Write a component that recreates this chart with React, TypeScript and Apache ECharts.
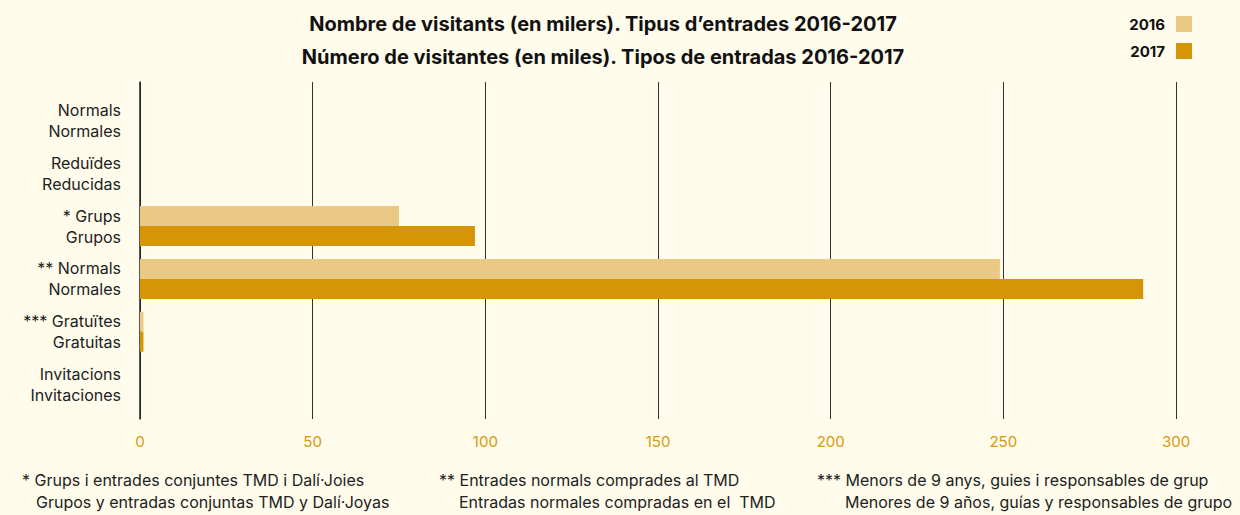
import React, { useEffect, useRef } from "react";
import * as echarts from "echarts";

const categories = [
  "Normals\nNormales",
  "Reduïdes\nReducidas",
  "* Grups\nGrupos",
  "** Normals\nNormales",
  "*** Gratuïtes\nGratuitas",
  "Invitacions\nInvitaciones",
];
const values2016 = [0, 0, 75, 249, 1, 0];
const values2017 = [0, 0, 97, 290.5, 1, 0];
const seriesNames = ["2016", "2017"];
const xTicks = { min: 0, max: 300, interval: 50 };
const titleLines = [
  "Nombre de visitants (en milers). Tipus d\u2019entrades 2016-2017",
  "Número de visitantes (en miles). Tipos de entradas 2016-2017",
];
const footnotes = [
  { x: 22, l1: "* Grups i entrades conjuntes TMD i Dalí·Joies", l2: "Grupos y entradas conjuntas TMD y Dalí·Joyas" },
  { x: 439, l1: "** Entrades normals comprades al TMD", l2: "Entradas normales compradas en el  TMD" },
  { x: 817, l1: "*** Menors de 9 anys, guies i responsables de grup", l2: "Menores de 9 años, guías y responsables de grupo" },
];

const FONT = "Inter, 'Noto Sans', sans-serif";
const C2016 = "#e9c983";
const C2017 = "#d69506";

export default function App() {
  const ref = useRef<HTMLDivElement>(null);
  useEffect(() => {
    if (!ref.current) return;
    const chart = echarts.init(ref.current, null, { renderer: "svg" });
    const indents = [14, 20, 28];
    const valueAxisBase = {
      type: "value",
      min: xTicks.min,
      max: xTicks.max,
      interval: xTicks.interval,
      axisLine: { show: false },
      axisTick: { show: false },
    };
    chart.setOption({
      animation: false,
      backgroundColor: "#fffcec",
      textStyle: { fontFamily: FONT },
      title: [
        {
          text: titleLines[0],
          left: 598,
          top: 9,
          textAlign: "center",
          textStyle: { fontSize: 20, fontWeight: "bold", color: "#111", fontFamily: FONT },
        },
        {
          text: titleLines[1],
          left: 598,
          top: 42,
          textAlign: "center",
          textStyle: { fontSize: 20, fontWeight: "bold", color: "#111", fontFamily: FONT },
        },
      ],
      legend: {
        orient: "vertical",
        right: 43,
        top: 11,
        align: "right",
        itemWidth: 16,
        itemHeight: 16,
        itemGap: 11,
        icon: "rect",
        data: seriesNames,
        textStyle: { fontSize: 15, fontWeight: "bold", color: "#111", fontFamily: FONT, padding: [0, 6, 0, 0] },
      },
      grid: [
        { left: 140, right: 64, top: 82, bottom: 96, containLabel: false },
        { left: 140, right: 64, top: 94, bottom: 104, containLabel: false },
      ],
      xAxis: [
        {
          ...valueAxisBase,
          gridIndex: 0,
          splitLine: { show: true, lineStyle: { color: "#333", width: 1 } },
          axisLabel: { color: "#d8980c", fontSize: 15, margin: 15, fontFamily: FONT },
        },
        {
          ...valueAxisBase,
          gridIndex: 1,
          splitLine: { show: false },
          axisLabel: { show: false },
        },
      ],
      yAxis: [
        {
          type: "value",
          gridIndex: 0,
          min: 0,
          max: 1,
          axisLine: { show: true, lineStyle: { color: "#222", width: 1.5 } },
          axisTick: { show: false },
          axisLabel: { show: false },
          splitLine: { show: false },
        },
        {
          type: "category",
          gridIndex: 1,
          data: categories,
          inverse: true,
          axisLine: { show: false },
          axisTick: { show: false },
          axisLabel: { color: "#222", fontSize: 16, lineHeight: 21, margin: 19, align: "right", fontFamily: FONT },
        },
      ],
      series: [
        {
          name: seriesNames[0],
          type: "bar",
          xAxisIndex: 1,
          yAxisIndex: 1,
          data: values2016,
          barWidth: 20,
          barGap: "0%",
          itemStyle: { color: C2016 },
        },
        {
          name: seriesNames[1],
          type: "bar",
          xAxisIndex: 1,
          yAxisIndex: 1,
          data: values2017,
          barWidth: 20,
          barGap: "0%",
          itemStyle: { color: C2017 },
        },
      ],
      graphic: footnotes.flatMap((f, i) => [
        {
          type: "text",
          left: f.x,
          top: 472,
          style: { text: f.l1, fontSize: 16, fill: "#222", fontFamily: FONT },
        },
        {
          type: "text",
          left: f.x + indents[i],
          top: 494,
          style: { text: f.l2, fontSize: 16, fill: "#222", fontFamily: FONT },
        },
      ]),
    });
    return () => chart.dispose();
  }, []);
  return (
    <div
      ref={ref}
      style={{ position: "absolute", left: 0, top: 0, width: 1240, height: 515 }}
    />
  );
}
